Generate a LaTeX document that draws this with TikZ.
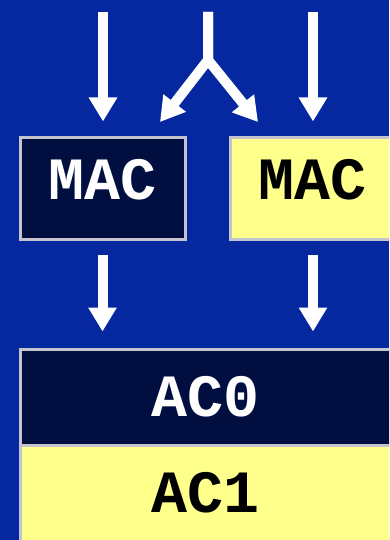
\documentclass[tikz,border=0pt]{standalone}
\usepackage{fontspec}
\setmonofont{Liberation Mono}
\usetikzlibrary{arrows.meta,positioning}
\definecolor{slideblue}{RGB}{5,40,160}
\definecolor{regnavy}{RGB}{0,14,64}
\definecolor{regyellow}{RGB}{255,255,140}
\definecolor{framegrey}{RGB}{196,196,206}

\begin{document}
\begin{tikzpicture}[
    x=1pt, y=-1pt,
    reg/.style={draw=framegrey, line width=3pt, inner sep=0pt,
        font=\ttfamily\bfseries\fontsize{60}{60}\selectfont},
    mac dark/.style={reg, fill=regnavy, text=white, minimum width=165pt, minimum height=101pt, text depth=18pt},
    mac light/.style={reg, fill=regyellow, text=black, minimum width=165pt, minimum height=101pt, text depth=18pt},
    acc dark/.style={reg, fill=regnavy, text=white, minimum width=372pt, minimum height=96pt},
    acc light/.style={reg, fill=regyellow, text=black, minimum width=372pt, minimum height=96pt},
    arrow/.style={white, line width=10pt, -{Triangle[width=27pt,length=24pt]}}
]
    % background
    \fill[slideblue] (0,0) rectangle (389,540);
    \useasboundingbox (0,0) rectangle (389,540);
    \clip (0,0) rectangle (389,540);

    % MAC units
    \node[mac dark] (macL) at (102.5,188.5) {MAC};
    \node[mac light] (macR) at (313,188.5) {MAC};

    % accumulators
    \node[acc dark] (acz) at (206,397) {AC0};
    \node[acc light] (aco) at (206,493) {AC1};

    % inputs
    \coordinate (inL) at (103,12);
    \coordinate (inM) at (208,12);
    \coordinate (inR) at (313,12);
    \coordinate (fork) at (208,60);
    \coordinate (tipL) at (160,122);
    \coordinate (tipR) at (258,122);

    \draw[arrow, shorten >=15pt] (inL) -- (inL |- macL.north);
    \draw[arrow, shorten >=15pt] (inR) -- (inR |- macR.north);
    \draw[arrow] (inM) -- (fork) -- (tipL);
    \draw[arrow] (inM) -- (fork) -- (tipR);

    % MAC -> AC
    \draw[arrow, shorten <=14pt, shorten >=16pt] (macL.south) -- (macL.south |- acz.north);
    \draw[arrow, shorten <=14pt, shorten >=16pt] (macR.south) -- (macR.south |- acz.north);
\end{tikzpicture}
\end{document}
